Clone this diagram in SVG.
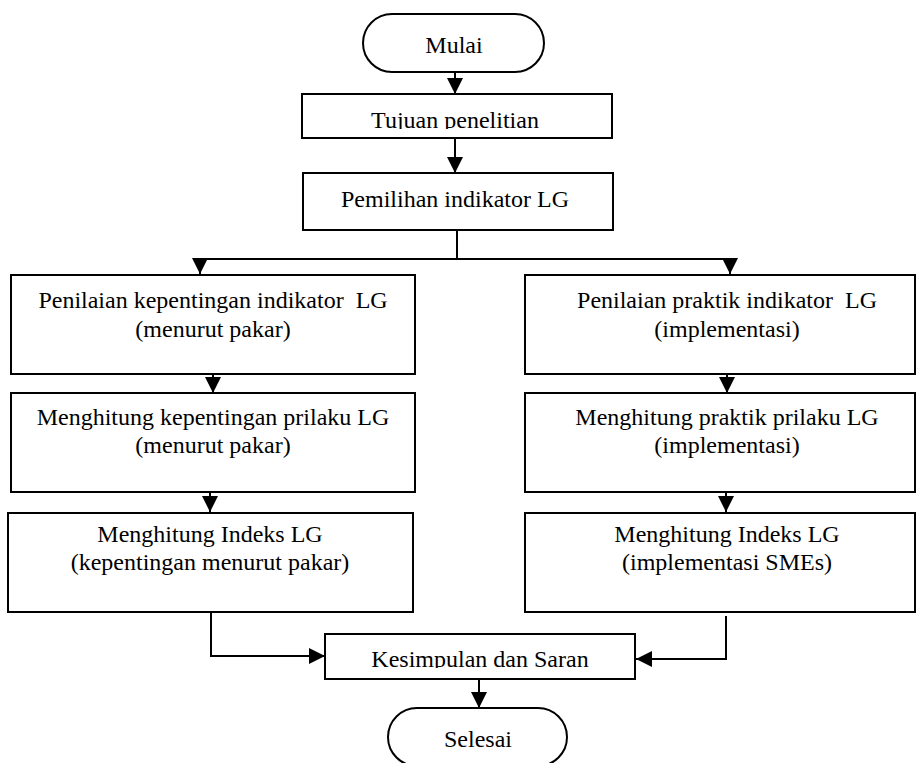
<svg xmlns="http://www.w3.org/2000/svg" width="916" height="763" viewBox="0 0 916 763">
<style>
.box{fill:#fff;stroke:#000;stroke-width:2}
.t{font-family:"Liberation Serif","Times New Roman",serif;font-size:24px;fill:#000;text-anchor:middle}
.c{fill:none;stroke:#000;stroke-width:2}
</style>
<defs>
<marker id="ah" markerUnits="userSpaceOnUse" markerWidth="17" markerHeight="17" refX="16" refY="8" orient="auto" viewBox="0 0 17 16">
<path d="M0,0 L16,8 L0,16 z" fill="#000"/>
</marker>
<clipPath id="clipTujuan"><rect x="300" y="90" width="320" height="39"/></clipPath>
<clipPath id="clipKes"><rect x="320" y="630" width="320" height="38"/></clipPath>
</defs>
<rect width="916" height="763" fill="#fff"/>
<g id="connectors">
<path class="c" d="M455,72 V94" marker-end="url(#ah)"/>
<path class="c" d="M455,138 V173" marker-end="url(#ah)"/>
<path class="c" d="M457,230 V259"/>
<path class="c" d="M457,259 H200 V274" marker-end="url(#ah)"/>
<path class="c" d="M457,259 H730 V274" marker-end="url(#ah)"/>
<path class="c" d="M213,374 V393" marker-end="url(#ah)"/>
<path class="c" d="M727,374 V393" marker-end="url(#ah)"/>
<path class="c" d="M210,492 V512" marker-end="url(#ah)"/>
<path class="c" d="M726,492 V512" marker-end="url(#ah)"/>
<path class="c" d="M211,612 V656 H325" marker-end="url(#ah)"/>
<path class="c" d="M726,616 V659 H636" marker-end="url(#ah)"/>
<path class="c" d="M479,679 V708" marker-end="url(#ah)"/>
</g>
<g id="mulai">
<rect class="box" x="363" y="14" width="181" height="58" rx="29" ry="29"/>
<text class="t" x="454" y="53">Mulai</text>
</g>
<g id="tujuan">
<rect class="box" x="302" y="94" width="310" height="44"/>
<text class="t" x="455" y="128" clip-path="url(#clipTujuan)">Tujuan penelitian</text>
</g>
<g id="pemilihan">
<rect class="box" x="303" y="173" width="310" height="57"/>
<text class="t" x="455" y="207">Pemilihan indikator LG</text>
</g>
<g id="penilaian-kepentingan">
<rect class="box" x="11" y="275" width="404" height="99"/>
<text class="t" x="213" y="308" xml:space="preserve">Penilaian kepentingan indikator  LG</text>
<text class="t" x="213" y="337">(menurut pakar)</text>
</g>
<g id="penilaian-praktik">
<rect class="box" x="525" y="275" width="390" height="99"/>
<text class="t" x="727" y="308" xml:space="preserve">Penilaian praktik indikator  LG</text>
<text class="t" x="727" y="337">(implementasi)</text>
</g>
<g id="menghitung-kepentingan">
<rect class="box" x="11" y="393" width="404" height="99"/>
<text class="t" x="213" y="425">Menghitung kepentingan prilaku LG</text>
<text class="t" x="213" y="453">(menurut pakar)</text>
</g>
<g id="menghitung-praktik">
<rect class="box" x="525" y="393" width="390" height="99"/>
<text class="t" x="727" y="425">Menghitung praktik prilaku LG</text>
<text class="t" x="727" y="453">(implementasi)</text>
</g>
<g id="indeks-kepentingan">
<rect class="box" x="8" y="513" width="405" height="99"/>
<text class="t" x="210" y="542">Menghitung Indeks LG</text>
<text class="t" x="210" y="570">(kepentingan menurut pakar)</text>
</g>
<g id="indeks-implementasi">
<rect class="box" x="525" y="513" width="390" height="99"/>
<text class="t" x="727" y="542">Menghitung Indeks LG</text>
<text class="t" x="727" y="570">(implementasi SMEs)</text>
</g>
<g id="kesimpulan">
<rect class="box" x="325" y="634" width="310" height="45"/>
<text class="t" x="480" y="667" clip-path="url(#clipKes)">Kesimpulan dan Saran</text>
</g>
<g id="selesai">
<rect class="box" x="388" y="708" width="179" height="58" rx="29" ry="29"/>
<text class="t" x="478" y="747">Selesai</text>
</g>
</svg>
